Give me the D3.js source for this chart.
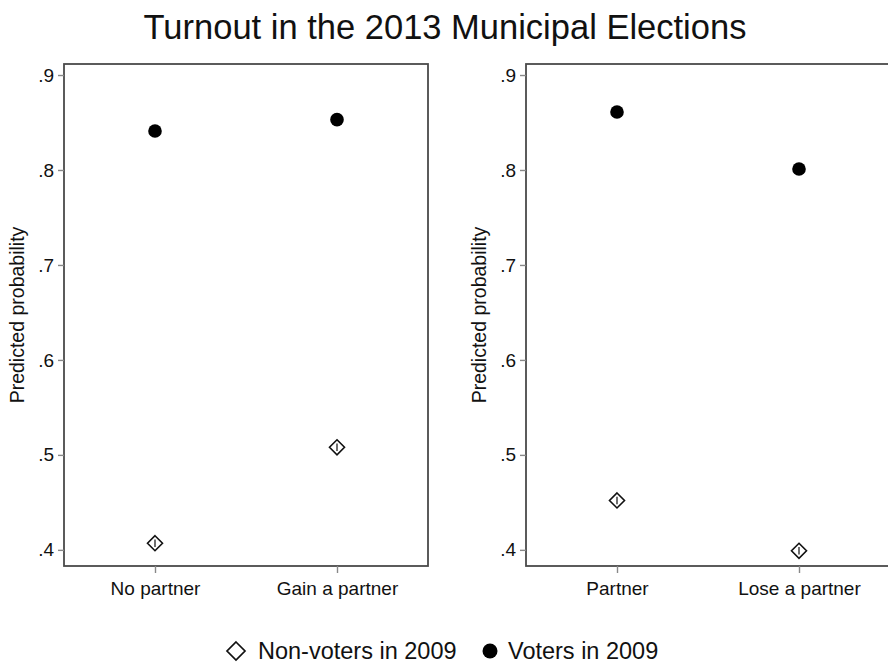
<!DOCTYPE html>
<html>
<head>
<meta charset="utf-8">
<script src="https://cdn.jsdelivr.net/npm/d3@7"></script>
<style>
  html, body { margin: 0; padding: 0; background: #fff; }
  svg { display: block; font-family: "Liberation Sans", Arial, sans-serif; }
</style>
</head>
<body>
<svg id="chart" width="888" height="665"></svg>
<script>
// Predicted turnout by partnership status, two panels
const title = "Turnout in the 2013 Municipal Elections";
const yTicks = [0.4, 0.5, 0.6, 0.7, 0.8, 0.9];
const yDomain = [0.383, 0.9116];

const leftCategories = ["No partner", "Gain a partner"];
const leftNonVoters = [0.407, 0.508];
const leftNonVotersLo = [0.403, 0.504];
const leftNonVotersHi = [0.411, 0.512];
const leftVoters = [0.841, 0.853];

const rightCategories = ["Partner", "Lose a partner"];
const rightNonVoters = [0.452, 0.399];
const rightNonVotersLo = [0.448, 0.395];
const rightNonVotersHi = [0.456, 0.403];
const rightVoters = [0.861, 0.801];

const legendLabels = ["Non-voters in 2009", "Voters in 2009"];

const svg = d3.select("#chart");
const axisColor = "#4a4a4a";

svg.append("text")
  .attr("x", 445).attr("y", 39)
  .attr("text-anchor", "middle")
  .attr("font-size", 34.5)
  .attr("fill", "#111")
  .text(title);

const panels = [
  { x0: 64, cats: leftCategories, nv: leftNonVoters, lo: leftNonVotersLo, hi: leftNonVotersHi, v: leftVoters },
  { x0: 526, cats: rightCategories, nv: rightNonVoters, lo: rightNonVotersLo, hi: rightNonVotersHi, v: rightVoters }
];

const pw = 364, plotTop = 64, plotBottom = 566;
const y = d3.scaleLinear().domain(yDomain).range([plotBottom, plotTop]);

const diamond = (cx, cy, r) => `M${cx},${cy - r}L${cx + r},${cy}L${cx},${cy + r}L${cx - r},${cy}Z`;

panels.forEach(p => {
  const g = svg.append("g");
  const x = d3.scalePoint().domain(p.cats).range([p.x0, p.x0 + pw]).padding(0.5);

  // frame
  g.append("rect")
    .attr("x", p.x0).attr("y", plotTop)
    .attr("width", pw).attr("height", plotBottom - plotTop)
    .attr("fill", "none").attr("stroke", axisColor).attr("stroke-width", 1.8);

  // y axis
  const ya = g.append("g").attr("transform", `translate(${p.x0},0)`)
    .call(d3.axisLeft(y).tickValues(yTicks).tickSize(6).tickPadding(4)
      .tickFormat(d => d3.format(".1f")(d).replace(/^0/, "")));
  ya.select(".domain").remove();
  ya.selectAll(".tick line").attr("stroke", "#888").attr("stroke-width", 1.4);
  ya.selectAll(".tick text").attr("font-size", 19).attr("fill", "#111")
    .attr("font-family", "Liberation Sans, Arial, sans-serif");

  // x axis
  const xa = g.append("g").attr("transform", `translate(0,${plotBottom})`)
    .call(d3.axisBottom(x).tickSize(7).tickPadding(9));
  xa.select(".domain").remove();
  xa.selectAll(".tick line").attr("stroke", "#888").attr("stroke-width", 1.4);
  xa.selectAll(".tick text").attr("font-size", 19).attr("fill", "#111")
    .attr("font-family", "Liberation Sans, Arial, sans-serif");

  // y title
  g.append("text")
    .attr("transform", `translate(${p.x0 - 40},${(plotTop + plotBottom) / 2}) rotate(-90)`)
    .attr("text-anchor", "middle")
    .attr("font-size", 19.5).attr("fill", "#111")
    .text("Predicted probability");

  // confidence spikes inside diamonds
  g.selectAll(".ci").data(p.cats).join("line")
    .attr("x1", d => x(d)).attr("x2", d => x(d))
    .attr("y1", (d, i) => y(p.lo[i])).attr("y2", (d, i) => y(p.hi[i]))
    .attr("stroke", "#222").attr("stroke-width", 1.3);

  // non-voters: hollow diamonds
  g.selectAll(".nv").data(p.cats).join("path")
    .attr("d", (d, i) => diamond(x(d), y(p.nv[i]), 7.5))
    .attr("fill", "none").attr("stroke", "#111").attr("stroke-width", 1.6);

  // voters: filled dots
  g.selectAll(".v").data(p.cats).join("circle")
    .attr("cx", d => x(d)).attr("cy", (d, i) => y(p.v[i]))
    .attr("r", 6.8).attr("fill", "#000");
});

// legend
const lg = svg.append("g");
lg.append("path").attr("d", diamond(236, 651, 9))
  .attr("fill", "none").attr("stroke", "#111").attr("stroke-width", 1.7);
lg.append("text").attr("x", 258).attr("y", 659)
  .attr("font-size", 23.5).attr("fill", "#111").text(legendLabels[0]);
lg.append("circle").attr("cx", 490).attr("cy", 651).attr("r", 7.5).attr("fill", "#000");
lg.append("text").attr("x", 508).attr("y", 659)
  .attr("font-size", 23.5).attr("fill", "#111").text(legendLabels[1]);
</script>
</body>
</html>
